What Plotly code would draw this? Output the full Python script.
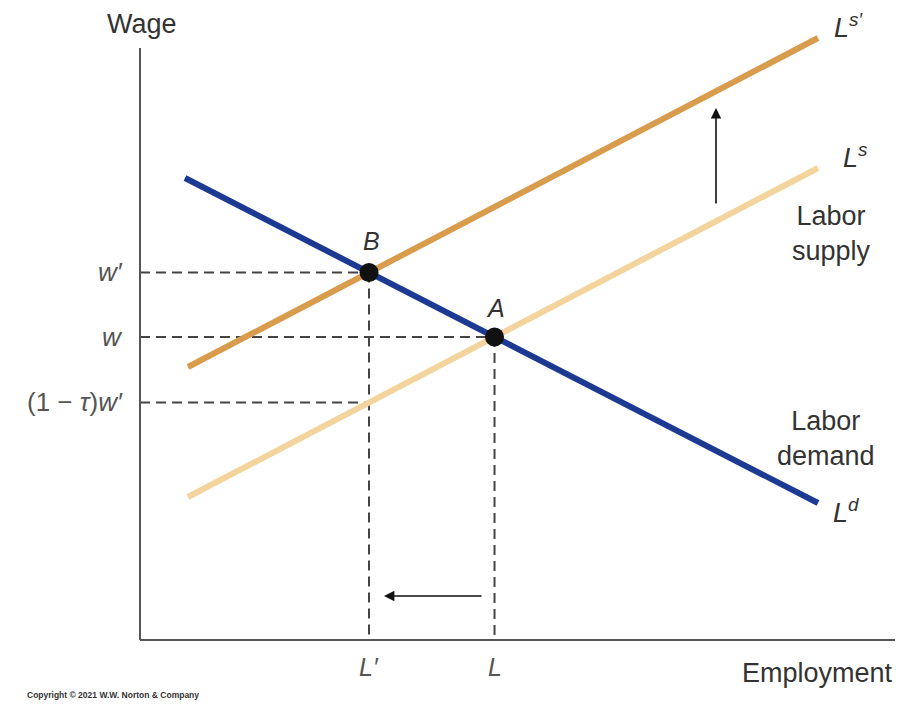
import numpy as np
import plotly.graph_objects as go

# ---- data (chart units: employment on x, wage on y) ----
demand_employment = [45, 678]
demand_wage = [462, 137]
supply_employment = [48, 678]
supply_wage = [143, 472]
supply_shifted_wage = [273, 602]

axis_x_max = 755
axis_y_max = 592

wage_tick_labels = ["<i>w′</i>", "<i>w</i>", "(1 − <i>τ</i>)<i>w′</i>"]
employment_tick_labels = ["<i>L′</i>", "<i>L</i>"]

BLUE = "#1d3a92"
DARK = "#d99b4c"
LIGHT = "#f2d49c"
GRAY = "#555555"
DASH = "#444444"
TXT = "#333333"
FONT = "Liberation Sans, Arial, sans-serif"


def line_coef(xs, ys):
    m = (ys[1] - ys[0]) / (xs[1] - xs[0])
    return m, ys[0] - m * xs[0]


def intersect(l1, l2):
    m1, b1 = l1
    m2, b2 = l2
    x = (b2 - b1) / (m1 - m2)
    return x, m1 * x + b1


d = line_coef(demand_employment, demand_wage)
s = line_coef(supply_employment, supply_wage)
s2 = line_coef(supply_employment, supply_shifted_wage)

Lp, wp = intersect(d, s2)  # point B
L0, w0 = intersect(d, s)   # point A
w_net = s[0] * Lp + s[1]   # (1 - tau) w'

fig = go.Figure()

dash_style = dict(color=DASH, width=2, dash="10px,6px")
# dashed guides
for xs, ys in [
    ([0, Lp], [wp, wp]),
    ([Lp, Lp], [wp, 0]),
    ([0, L0], [w0, w0]),
    ([L0, L0], [w0, 0]),
    ([0, Lp], [w_net, w_net]),
]:
    fig.add_trace(go.Scatter(x=xs, y=ys, mode="lines", line=dash_style,
                             hoverinfo="skip", showlegend=False))

# curves
fig.add_trace(go.Scatter(x=supply_employment, y=supply_wage, mode="lines",
                         line=dict(color=LIGHT, width=6), showlegend=False))
fig.add_trace(go.Scatter(x=supply_employment, y=supply_shifted_wage, mode="lines",
                         line=dict(color=DARK, width=6), showlegend=False))
fig.add_trace(go.Scatter(x=demand_employment, y=demand_wage, mode="lines",
                         line=dict(color=BLUE, width=6), showlegend=False))

# equilibrium points
fig.add_trace(go.Scatter(x=[Lp, L0], y=[wp, w0], mode="markers",
                         marker=dict(color="#111111", size=19), showlegend=False))

# axes lines
fig.add_shape(type="line", x0=0, y0=0, x1=axis_x_max, y1=0,
              line=dict(color=GRAY, width=2))
fig.add_shape(type="line", x0=0, y0=0, x1=0, y1=axis_y_max,
              line=dict(color=GRAY, width=2))

ann = []


def text(x, y, t, size=27, color=TXT, xanchor="center", yanchor="middle", family=FONT):
    ann.append(dict(x=x, y=y, xref="x", yref="y", text=t, showarrow=False,
                    xanchor=xanchor, yanchor=yanchor,
                    font=dict(family=family, size=size, color=color)))


# tick labels
for val, lab in zip([wp, w0, w_net], wage_tick_labels):
    text(-15, val, lab, size=26, color=GRAY, xanchor="right")
for val, lab in zip([Lp, L0], employment_tick_labels):
    text(val, -27, lab, size=25, color=GRAY)

# axis titles
text(2, 616, "Wage", size=27)
text(677, -33, "Employment", size=27)

# point labels
text(Lp + 2, wp + 31, "<i>B</i>", size=25)
text(L0 + 1, w0 + 29, "<i>A</i>", size=25)

# curve labels
text(692, 614, "<i>L<sup>s′</sup></i>", size=27, xanchor="left")
text(701, 484, "<i>L<sup>s</sup></i>", size=27, xanchor="left")
text(691, 129, "<i>L<sup>d</sup></i>", size=27, xanchor="left")
text(691, 407, "Labor<br>supply", size=27)
text(686, 202, "Labor<br>demand", size=27)

# copyright
text(-115, -55, "<b>Copyright © 2021 W.W. Norton &amp; Company</b>", size=8.5,
     xanchor="left")

# arrows
ann.append(dict(x=576, y=532, ax=576, ay=435, xref="x", yref="y", axref="x", ayref="y",
                text="", showarrow=True, arrowhead=2, arrowsize=1.3, arrowwidth=1.6,
                arrowcolor="#111111"))
ann.append(dict(x=244, y=44, ax=343, ay=44, xref="x", yref="y", axref="x", ayref="y",
                text="", showarrow=True, arrowhead=2, arrowsize=1.3, arrowwidth=1.6,
                arrowcolor="#111111"))

fig.update_layout(
    width=918, height=710,
    margin=dict(l=0, r=0, t=0, b=0),
    paper_bgcolor="white", plot_bgcolor="white",
    xaxis=dict(range=[-140, 778], visible=False, fixedrange=True),
    yaxis=dict(range=[-70, 640], visible=False, fixedrange=True),
    annotations=ann,
    showlegend=False,
)

fig.write_html("out.html")
